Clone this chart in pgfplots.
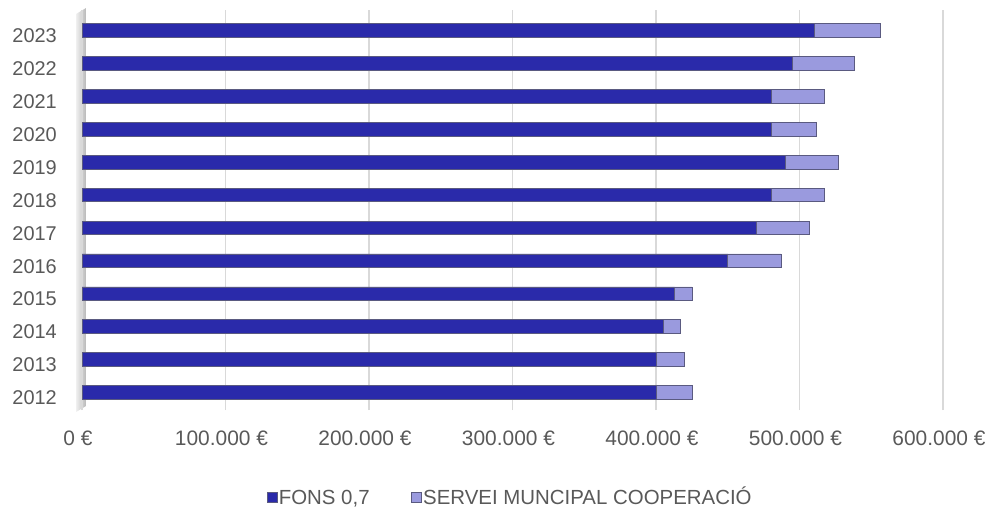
\documentclass[border=0pt]{standalone}
\usepackage{pgfplots}
\pgfplotsset{compat=1.18}
\usepackage{fontspec}
\setmainfont{Liberation Sans}
\definecolor{txt}{HTML}{595959}
\definecolor{grd}{HTML}{D9D9D9}
\definecolor{dk}{HTML}{2A2AAA}
\definecolor{lt}{HTML}{9A9ADE}
\definecolor{edge}{HTML}{5A5A80}
\begin{document}
\begin{tikzpicture}
\path[use as bounding box] (0,0) rectangle (988bp,-509bp);
\shade[left color=gray!12, right color=gray!55] (76bp,-14bp) -- (86bp,-8bp) -- (86bp,-406bp) -- (76bp,-412bp) -- cycle;
\begin{axis}[
  at={(82bp,-410bp)}, anchor=south west,
  scale only axis, width=861bp, height=400bp,
  xbar stacked, bar width=13.5bp,
  xmin=0, xmax=600000, ymin=-0.538, ymax=11.623,
  axis lines*=left, axis line style={draw=none},
  major tick length=0pt,
  scaled x ticks=false,
  xtick={0,100000,200000,300000,400000,500000,600000},
  xticklabels={0 €,100.000 €,200.000 €,300.000 €,400.000 €,500.000 €,600.000 €},
  ytick={0,1,2,3,4,5,6,7,8,9,10,11},
  yticklabels={2012,2013,2014,2015,2016,2017,2018,2019,2020,2021,2022,2023},
  xmajorgrids, grid style={grd, line width=1.5bp},
  ticklabel style={text=txt, inner sep=0pt},
  xticklabel style={font=\fontsize{21}{25}\selectfont, anchor=north, yshift=-21bp, xshift=-4bp},
  yticklabel style={font=\fontsize{20}{24}\selectfont, anchor=east, xshift=-25bp, yshift=-5.5bp},
  legend style={draw=none, fill=none, at={(0.497,-0.2175)}, anchor=center,
    font=\fontsize{20.5}{24}\selectfont, text=txt,
    nodes={inner sep=1.5bp, text height=15bp, text depth=1bp},
    /tikz/every even column/.append style={column sep=40bp}},
  legend columns=2,
  legend image code/.code={\draw[#1, draw=edge, line width=0.6bp] (0bp,-5bp) rectangle (10bp,5bp);},
]
\addplot[draw=edge, line width=0.6bp, fill=dk] coordinates {
 (400000,0) (400000,1) (405000,2) (413000,3) (450000,4) (470000,5)
 (480000,6) (490000,7) (480000,8) (480000,9) (495000,10) (510000,11)};
\addplot[draw=edge, line width=0.6bp, fill=lt] coordinates {
 (25000,0) (20000,1) (12000,2) (12000,3) (37000,4) (37000,5)
 (37000,6) (37000,7) (32000,8) (37000,9) (43000,10) (46000,11)};
\legend{{FONS 0,7}, {SERVEI MUNCIPAL COOPERACIÓ}}
\end{axis}
\end{tikzpicture}
\end{document}
